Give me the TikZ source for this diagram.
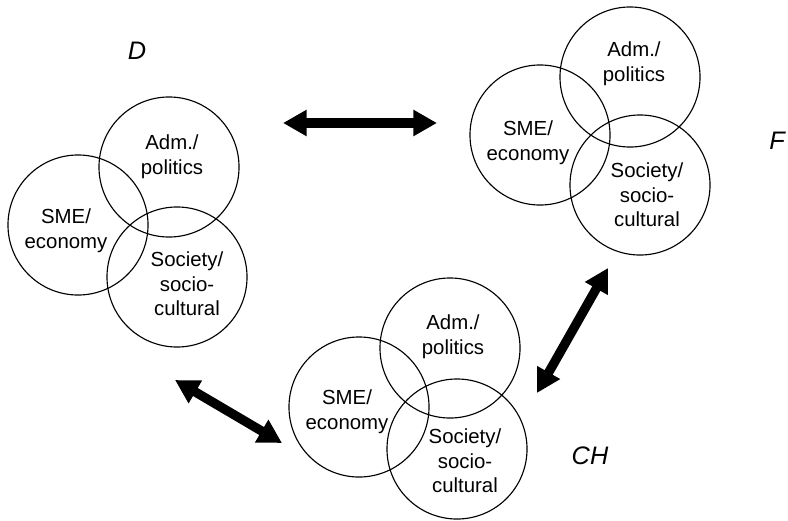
\documentclass[tikz,border=0pt]{standalone}
\usepackage{fontspec}
\setmainfont{Liberation Sans}
\usetikzlibrary{arrows.meta}

\tikzset{
  ring/.style={draw, circle, minimum size=3.5cm, inner sep=0pt, line width=0.8pt},
  field/.style={align=center, inner sep=0pt, font=\fontsize{14.5}{17.5}\selectfont},
  land/.style={inner sep=0pt, font=\fontsize{18}{21}\selectfont\itshape},
  link/.style={line width=6.6pt,
    {Triangle[length=5.9mm,width=6.2mm]}-{Triangle[length=5.9mm,width=6.2mm]}}
}

\begin{document}
\begin{tikzpicture}[x=0.025cm,y=-0.025cm]
\useasboundingbox (0,0) rectangle (788,520);

\node[ring] (Dsme) at (78,225) {};
\node[ring] (Dadm) at (169,167) {};
\node[ring] (Dsoc) at (177,277) {};
\node[field] (Dsmet) at (66,231) {SME/\\economy};
\node[field] (Dadmt) at (172,157) {Adm./\\politics};
\node[field] (Dsoct) at (187,284) {Society/\\socio-\\cultural};
\node[land] (D) at (137,51) {D};

\node[ring] (Fsme) at (540,135) {};
\node[ring] (Fadm) at (630,77) {};
\node[ring] (Fsoc) at (640,185) {};
\node[field] (Fsmet) at (528,143) {SME/\\economy};
\node[field] (Fadmt) at (634,64) {Adm./\\politics};
\node[field] (Fsoct) at (647,195) {Society/\\socio-\\cultural};
\node[land] (F) at (777,141) {F};

\node[ring] (Csme) at (359,407) {};
\node[ring] (Cadm) at (450,348) {};
\node[ring] (Csoc) at (457,449) {};
\node[field] (Csmet) at (347,412) {SME/\\economy};
\node[field] (Cadmt) at (453,337) {Adm./\\politics};
\node[field] (Csoct) at (465,461) {Society/\\socio-\\cultural};
\node[land] (CH) at (590,456) {CH};

\coordinate (DF1) at (283,123);
\coordinate (DF2) at (437,123);
\coordinate (DC1) at (175,380);
\coordinate (DC2) at (282,443);
\coordinate (FC1) at (608,268);
\coordinate (FC2) at (537,393);

\draw[link] (DF1) -- (DF2);
\draw[link] (DC1) -- (DC2);
\draw[link] (FC1) -- (FC2);
\end{tikzpicture}
\end{document}
